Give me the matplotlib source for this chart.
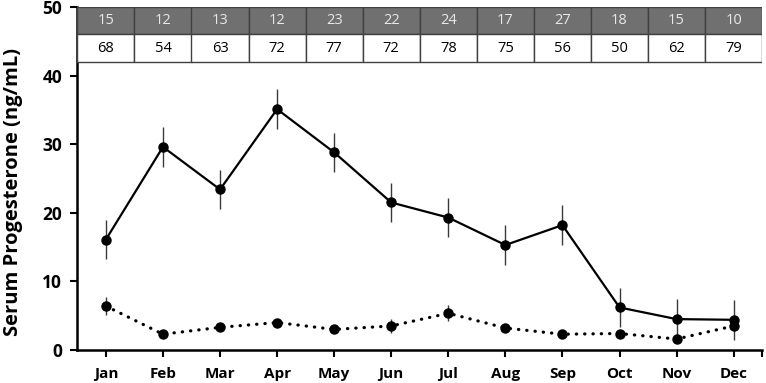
import matplotlib

matplotlib.use("Agg")
import matplotlib.pyplot as plt
from matplotlib.patches import Rectangle
import numpy as np

plt.rcParams["font.family"] = ["Open Sans", "DejaVu Sans"]

months = ["Jan", "Feb", "Mar", "Apr", "May", "Jun", "Jul", "Aug", "Sep", "Oct", "Nov", "Dec"]
solid_mean = [16.1, 29.6, 23.4, 35.1, 28.8, 21.5, 19.3, 15.3, 18.2, 6.2, 4.5, 4.4]
solid_err = [2.9, 2.9, 2.9, 2.9, 2.9, 2.9, 2.9, 2.9, 2.9, 2.9, 2.9, 2.9]
dotted_mean = [6.4, 2.3, 3.3, 4.0, 3.0, 3.5, 5.35, 3.2, 2.3, 2.4, 1.6, 3.5]
dotted_err = [1.35, 0.3, 0.3, 0.3, 0.3, 1.0, 1.15, 0.3, 0.3, 0.5, 0.3, 0.5]
row_top = [15, 12, 13, 12, 23, 22, 24, 17, 27, 18, 15, 10]
row_bottom = [68, 54, 63, 72, 77, 72, 78, 75, 56, 50, 62, 79]

x = np.arange(len(months))

fig = plt.figure(figsize=(7.66, 3.83), dpi=100)
ax = fig.add_axes([0.101, 0.0862, 0.894, 0.8956])

ax.errorbar(x, solid_mean, yerr=solid_err, fmt="none", ecolor="#3a3a3a", elinewidth=1.0, capsize=0, zorder=2)
ax.errorbar(x, dotted_mean, yerr=dotted_err, fmt="none", ecolor="#3a3a3a", elinewidth=1.0, capsize=0, zorder=2)
ax.plot(x, solid_mean, color="black", lw=1.6, marker="o", ms=6.5, zorder=3)
ax.plot(x, dotted_mean, color="black", lw=2.3, ls=(0, (0.1, 2.5)), dash_capstyle="round",
        marker="o", ms=6.5, zorder=3)

# table rows on top of plot
for i in range(len(months)):
    ax.add_patch(Rectangle((i - 0.5, 46), 1, 4, facecolor="#707070", edgecolor="#404040", lw=1.0, zorder=4))
    ax.add_patch(Rectangle((i - 0.5, 42), 1, 4, facecolor="white", edgecolor="#404040", lw=1.0, zorder=4))
    ax.text(i, 48, str(row_top[i]), ha="center", va="center", fontsize=10.5, color="#e8e8e8", zorder=5)
    ax.text(i, 44, str(row_bottom[i]), ha="center", va="center", fontsize=10.5, color="black", zorder=5)

ax.set_xlim(-0.5, 11.5)
ax.set_ylim(0, 50)
ax.set_xticks(x)
ax.set_xticklabels(months, fontsize=11, fontweight="bold")
ax.set_xticks([11.5], minor=True)
ax.set_yticks([0, 10, 20, 30, 40, 50])
ax.set_yticklabels(["0", "10", "20", "30", "40", "50"], fontsize=12.5, fontweight="bold")
ax.tick_params(axis="x", which="both", direction="out", length=5, width=1.5, pad=7)
ax.tick_params(axis="y", direction="out", length=5, width=1.5, pad=6)
ax.set_ylabel("Serum Progesterone (ng/mL)", fontsize=14.5, fontweight="bold")
ax.yaxis.set_label_coords(-0.079, 0.46)
ax.spines[["top", "right"]].set_visible(False)
ax.spines["left"].set_linewidth(1.8)
ax.spines["bottom"].set_linewidth(1.8)

fig.savefig("out.png", dpi=100)
plt.close()
